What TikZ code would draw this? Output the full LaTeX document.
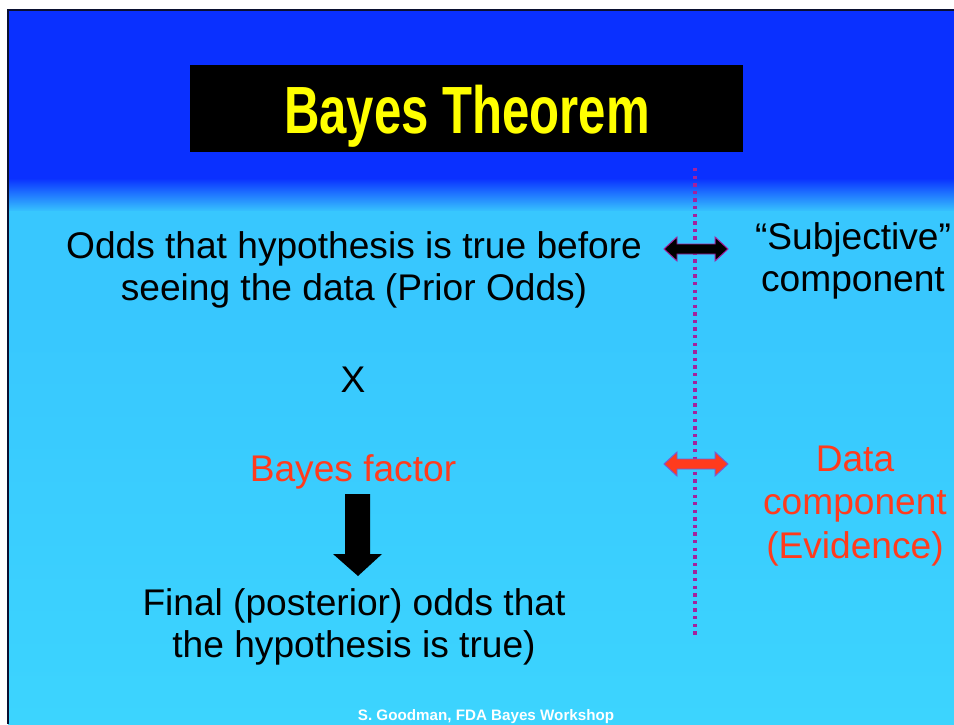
\documentclass[tikz,border=0pt]{standalone}
\usepackage{fontspec}
\setmainfont{Liberation Sans}
\usepackage{tikz}
\usetikzlibrary{positioning, calc}
\definecolor{SlideBlue}{HTML}{0A30FF}
\definecolor{SlideCyan}{HTML}{3CD4FE}
\definecolor{SlideEdge}{HTML}{0A1030}
\definecolor{BayesRed}{HTML}{FF3B1D}
\definecolor{TheoremYellow}{HTML}{FFFF00}
\definecolor{DotPurple}{HTML}{A3229E}
\definecolor{EdgeViolet}{HTML}{7A5AD0}

\tikzset{
  bodytext/.style={font=\fontsize{26.4}{30}\selectfont, align=center, inner sep=0pt},
  redtext/.style={bodytext, text=BayesRed},
  twoway/.pic={
    \path[pic actions] (-32,0) -- (-19,-12) -- (-19,-5) -- (19,-5) -- (19,-12)
      -- (32,0) -- (19,12) -- (19,5) -- (-19,5) -- (-19,12) -- cycle;
  }
}

\begin{document}
\begin{tikzpicture}[x=0.025cm, y=-0.025cm]
      \useasboundingbox (0,0) rectangle (954,724);
      \clip (0,0) rectangle (954,724);
      \fill[white] (0,0) rectangle (954,724);
      %% Slide background
      \fill[SlideBlue] (8,10) rectangle (954,179);
      \shade[top color=SlideBlue, bottom color=SlideCyan!92!SlideBlue] (8,178) rectangle (954,212);
      \fill[SlideCyan!92!SlideBlue] (8,211) rectangle (954,300);
      \shade[top color=SlideCyan!92!SlideBlue, bottom color=SlideCyan] (8,299) rectangle (954,724);
      \draw[SlideEdge, line width=1.2pt] (8,724) -- (8,10) -- (954,10);
      %% Title
      \fill[black] (190,65) rectangle (743,152);
      \node[text=TheoremYellow, font=\fontsize{47.5}{50}\selectfont\bfseries, inner sep=0pt, anchor=base]
        (title) at (467,133) {\scalebox{0.735}[1]{Bayes Theorem}};
      %% Divider
      \draw[DotPurple, line width=2.4pt, dash pattern=on 2.4pt off 3pt] (695,168) -- (695,637);
      %% Left column
      \node[bodytext] (prior) at (354,270) {Odds that hypothesis is true before\\seeing the data (Prior Odds)};
      \node[bodytext, anchor=base] (times) at (353,392) {X};
      \node[redtext, anchor=base] (factor) at (353,481) {Bayes factor};
      \fill[black] (345,494) -- (370,494) -- (370,554) -- (382,554) -- (358,576)
                   -- (333,554) -- (345,554) -- cycle;
      \node[bodytext] (posterior) at (354,627) {Final (posterior) odds that\\the hypothesis is true)};
      %% Right column
      \pic[fill=black, draw=DotPurple, line width=0.7pt] (subjarrow) at (696,249) {twoway};
      \pic[fill=BayesRed, draw=EdgeViolet, line width=0.7pt] (dataarrow) at (696,464) {twoway};
      \node[bodytext] (subjective) at (853,261) {``Subjective''\\component};
      \node[redtext, font=\fontsize{26.4}{31}\selectfont] (evidence) at (855,506) {Data\\component\\(Evidence)};
      %% Footer
      \node[white, font=\fontsize{10.8}{12}\selectfont\bfseries, inner sep=0pt, anchor=base]
        (footer) at (486,720) {S. Goodman, FDA Bayes Workshop};
    \end{tikzpicture}
\end{document}
